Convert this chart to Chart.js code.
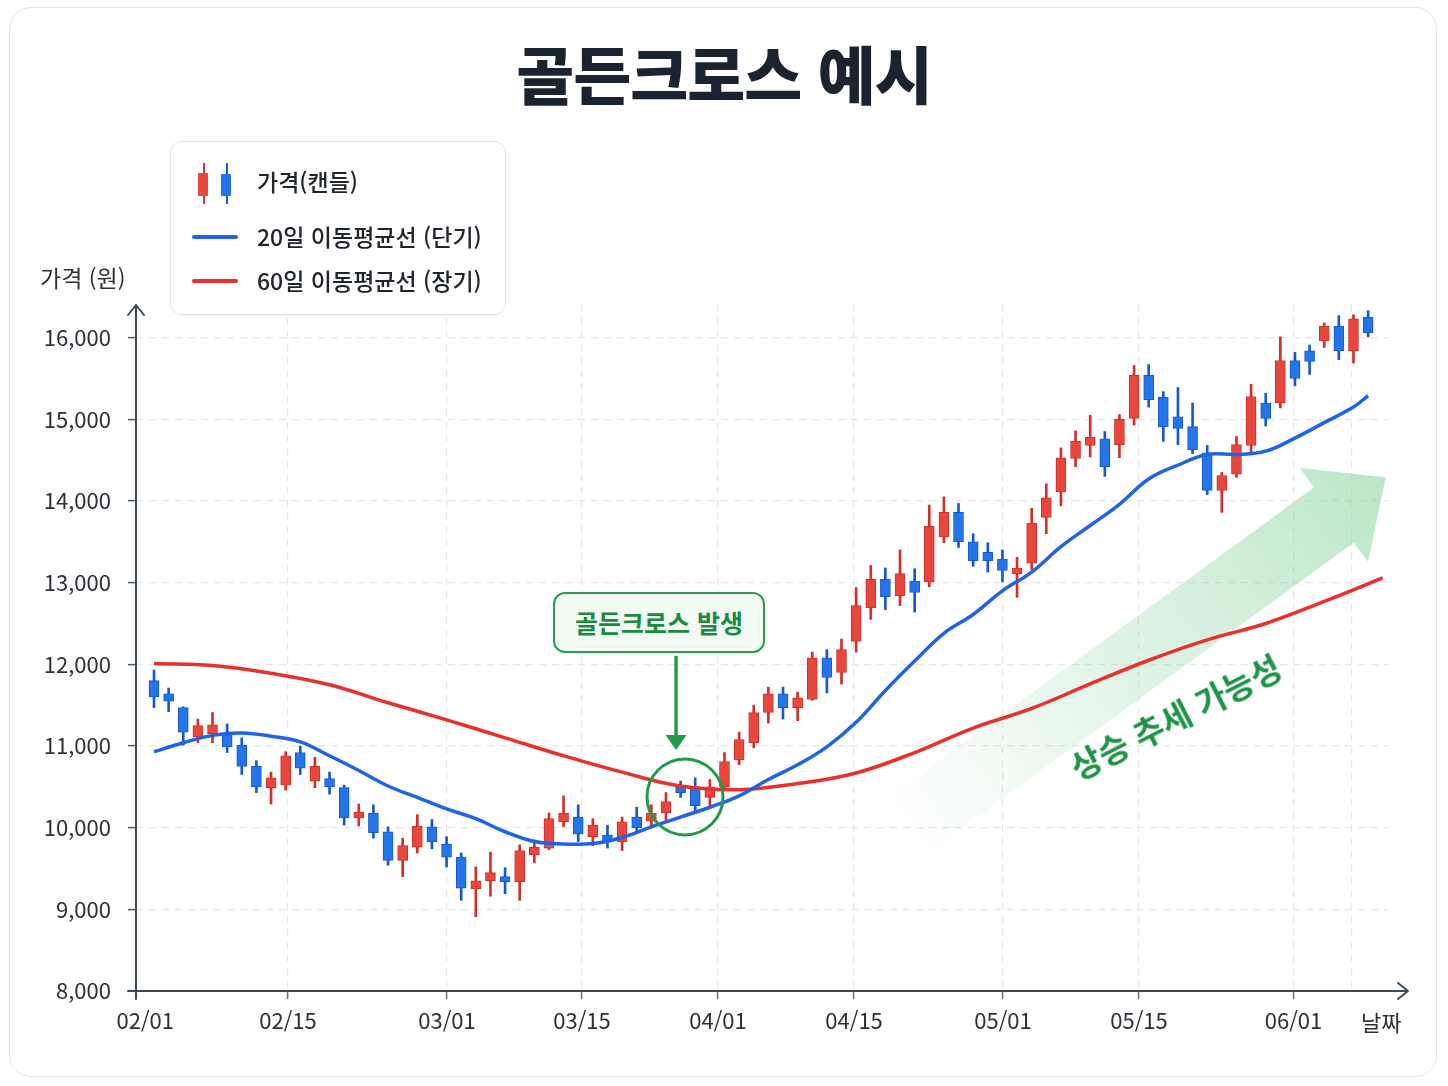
<!DOCTYPE html>
<html lang="ko">
<head>
<meta charset="utf-8">
<title>골든크로스 예시</title>
<script src="https://cdn.jsdelivr.net/npm/chart.js@4.4.3/dist/chart.umd.min.js"></script>
<style>
  html, body { margin: 0; padding: 0; background: #fff; }
  body {
    width: 1448px; height: 1086px; position: relative; overflow: hidden;
    font-family: "Noto Sans CJK KR", "Noto Sans", sans-serif; color: #1f2430;
  }
  .card {
    position: absolute; left: 9px; top: 7px; width: 1426px; height: 1068px;
    border: 1.5px solid #e3e5e9; border-radius: 22px; background: #fff;
  }
  #chart { position: absolute; left: 0; top: 0; }
  .title {
    position: absolute; left: 0; top: 40px; width: 1448px; text-align: center;
    font-size: 63px; line-height: 63px; font-weight: 900; color: #1b2331; letter-spacing: -1px;
  }
  .legend {
    position: absolute; left: 170px; top: 141px; width: 334px; height: 172px;
    border: 1.5px solid #dfe2e7; border-radius: 12px; background: #fff;
    box-shadow: 0 1px 3px rgba(0,0,0,0.04);
  }
  .legend .txt {
    position: absolute; left: 86px; font-size: 23px; line-height: 23px; font-weight: 500; color: #20242c;
    white-space: nowrap;
  }
  .legend .line { position: absolute; left: 21px; width: 46px; height: 4px; border-radius: 2px; }
  .candle { position: absolute; width: 2px; }
  .candle i { position: absolute; left: -5px; width: 10px; border-radius: 1px; }
  .axis-title { position: absolute; font-size: 23px; line-height: 23px; color: #2b2f36; white-space: nowrap; }
  .callout {
    position: absolute; left: 553px; top: 592px; width: 208px; height: 57px;
    border: 2px solid #2a9d50; border-radius: 12px; background: #f1faf3;
    font-size: 25px; line-height: 57px; font-weight: 600; color: #1d8a41; text-align: center;
  }
  .trend {
    position: absolute; left: 1175px; top: 716px; transform: translate(-50%, -50%) rotate(-27deg);
    font-size: 33px; font-weight: 600; color: #1f9447; white-space: nowrap;
  }
</style>
</head>
<body>
<div class="card"></div>
<canvas id="chart" width="1448" height="1086"></canvas>

<div class="title">골든크로스 예시</div>

<div class="legend">
  <div class="candle" style="left:32px; top:21px; height:41px; background:#d8322c;"><i style="top:10px; height:23px; background:#e8473e;"></i></div>
  <div class="candle" style="left:55px; top:21px; height:41px; background:#1b5fd6;"><i style="top:11px; height:22px; background:#2475ea;"></i></div>
  <div class="txt" style="top:28px;">가격(캔들)</div>
  <div class="line" style="top:93px; background:#1f63e6;"></div>
  <div class="txt" style="top:83px;">20일 이동평균선 (단기)</div>
  <div class="line" style="top:137px; background:#e8302c;"></div>
  <div class="txt" style="top:127px;">60일 이동평균선 (장기)</div>
</div>

<div class="axis-title" style="left:40px; top:266px;">가격 (원)</div>
<div class="axis-title" style="left:1361px; top:1010px; font-size:22px;">날짜</div>

<div class="callout">골든크로스 발생</div>
<div class="trend">상승 추세 가능성</div>

<script>
// 캔들 데이터 (거래일 순서, 0 = 02/01 부근)
const opens  = [11800, 11640, 11470, 11110, 11150, 11160, 11010, 10750, 10490, 10520,
                10920, 10570, 10600, 10490, 10120, 10180, 9950, 9600, 9760, 10010,
                9800, 9640, 9250, 9350, 9400, 9340, 9670, 9750, 10070, 10130,
                9890, 9910, 9830, 10130, 10080, 10180, 10520, 10500, 10370, 10500,
                10830, 11040, 11410, 11640, 11470, 11570, 12080, 11900, 12280, 12690,
                13040, 12840, 13020, 13010, 13560, 13860, 13500, 13370, 13290, 13110,
                13240, 13800, 14110, 14520, 14680, 14760, 14690, 15010, 15540, 15270,
                15030, 14910, 14590, 14130, 14330, 14680, 15200, 15200, 15720, 15840,
                15960, 16140, 15840, 16250];
const highs  = [11930, 11710, 11480, 11330, 11410, 11270, 11100, 10820, 10680, 10930,
                11000, 10860, 10680, 10520, 10290, 10280, 10010, 9870, 10160, 10100,
                9890, 9690, 9520, 9700, 9510, 9790, 9850, 10180, 10390, 10280,
                10110, 10030, 10130, 10250, 10280, 10430, 10570, 10610, 10590, 10920,
                11170, 11500, 11720, 11720, 11660, 12150, 12180, 12310, 12940, 13210,
                13180, 13400, 13170, 13950, 14050, 13970, 13600, 13490, 13400, 13310,
                13910, 14210, 14650, 14860, 15050, 14850, 15060, 15660, 15670, 15340,
                15390, 15200, 14680, 14350, 14790, 15430, 15320, 16010, 15820, 15910,
                16180, 16270, 16280, 16330];
const lows   = [11470, 11420, 11010, 11040, 11040, 10920, 10650, 10430, 10290, 10460,
                10650, 10490, 10410, 10030, 10020, 9870, 9540, 9400, 9690, 9740,
                9520, 9110, 8910, 9160, 9190, 9110, 9570, 9730, 10010, 9830,
                9780, 9750, 9720, 9940, 10000, 10080, 10370, 10180, 10240, 10480,
                10770, 10980, 11280, 11330, 11310, 11560, 11650, 11760, 12150, 12550,
                12670, 12720, 12640, 12950, 13490, 13430, 13200, 13130, 13010, 12820,
                13160, 13600, 13940, 14420, 14540, 14300, 14530, 14930, 15150, 14730,
                14690, 14580, 14080, 13860, 14290, 14580, 14920, 15140, 15410, 15550,
                15880, 15730, 15690, 16010];
const closes = [11600, 11550, 11170, 11250, 11260, 10990, 10750, 10500, 10610, 10880,
                10730, 10750, 10500, 10120, 10190, 9940, 9600, 9780, 10020, 9830,
                9640, 9260, 9350, 9450, 9340, 9720, 9760, 10110, 10180, 9920,
                10030, 9830, 10070, 10000, 10180, 10320, 10430, 10270, 10500, 10810,
                11080, 11410, 11640, 11470, 11590, 12080, 11840, 12180, 12720, 13040,
                12830, 13110, 12880, 13690, 13860, 13500, 13270, 13270, 13150, 13180,
                13730, 14040, 14530, 14730, 14780, 14420, 15000, 15540, 15240, 14910,
                14890, 14630, 14130, 14310, 14690, 15280, 15010, 15720, 15500, 15710,
                16140, 15840, 16230, 16060];

// 20일 이동평균선 (단기)
const ma20Days = [0, 2, 4, 6, 8, 10, 12, 14, 16, 18, 20, 22, 24, 26, 28, 30, 32, 34, 36, 38,
                  40, 42, 44, 46, 48, 50, 52, 54, 56, 58, 60, 62, 64, 66, 68, 70, 72, 74, 76, 78,
                  80, 82, 83];
const ma20 = [10930, 11040, 11130, 11160, 11120, 11050, 10880, 10700, 10510, 10370,
              10230, 10110, 9950, 9830, 9800, 9805, 9880, 10010, 10130, 10250,
              10390, 10590, 10770, 10990, 11290, 11680, 12040, 12380, 12610, 12900,
              13130, 13440, 13700, 13960, 14270, 14440, 14570, 14570, 14610, 14770,
              14960, 15150, 15290];

// 60일 이동평균선 (장기)
const ma60Days = [0, 4, 8, 12, 16, 20, 24, 28, 32, 36, 40, 44, 48, 52, 56, 60, 64, 68, 72, 76, 80, 84];
const ma60 = [12010, 11985, 11890, 11750, 11530, 11320, 11100, 10880, 10680, 10510,
              10465, 10540, 10670, 10920, 11220, 11460, 11760, 12050, 12300, 12500,
              12770, 13060];

// 축 눈금
const tickDays = [-0.6, 9.16, 20.03, 29.26, 38.56, 47.86, 58.04, 67.34, 77.9, 81.9];
const tickLabels = ["02/01", "02/15", "03/01", "03/15", "04/01", "04/15", "05/01", "05/15", "06/01", ""];
const priceTicks = [8000, 9000, 10000, 11000, 12000, 13000, 14000, 15000, 16000];

const UP = "#e8473e", UP_EDGE = "#d22f29";
const DOWN = "#2475ea", DOWN_EDGE = "#1658cf";
const isUp = (i) => closes[i] >= opens[i];

const wickData = opens.map((_, i) => ({ x: i, y: [lows[i], highs[i]] }));
const bodyData = opens.map((_, i) => ({ x: i, y: [opens[i], closes[i]] }));

const FONT = '"Noto Sans CJK KR", "Noto Sans", sans-serif';
const GREEN = "#23994b";

const decorations = {
  id: "decorations",
  beforeDatasetsDraw(chart) {
    // 상승 추세 화살표 (반투명 그라데이션)
    const { ctx, scales: { x, y } } = chart;
    const tail = { x: x.getPixelForValue(51), y: y.getPixelForValue(9960) };
    const tip = { x: x.getPixelForValue(84.2), y: y.getPixelForValue(14290) };
    const dx = tip.x - tail.x, dy = tip.y - tail.y, L = Math.hypot(dx, dy);
    const ux = dx / L, uy = dy / L, nx = -uy, ny = ux;
    const head = 64, hw = 58, sw = 34;
    const bx = tip.x - ux * head, by = tip.y - uy * head;
    const pts = [
      [tail.x + nx * sw, tail.y + ny * sw],
      [bx + nx * sw, by + ny * sw],
      [bx + nx * hw, by + ny * hw],
      [tip.x, tip.y],
      [bx - nx * hw, by - ny * hw],
      [bx - nx * sw, by - ny * sw],
      [tail.x - nx * sw, tail.y - ny * sw],
    ];
    const g = ctx.createLinearGradient(tail.x, tail.y, tip.x, tip.y);
    g.addColorStop(0, "rgba(140,214,160,0)");
    g.addColorStop(0.35, "rgba(140,214,160,0.2)");
    g.addColorStop(1, "rgba(140,214,160,0.58)");
    ctx.save();
    ctx.beginPath();
    pts.forEach(([px, py], k) => (k ? ctx.lineTo(px, py) : ctx.moveTo(px, py)));
    ctx.closePath();
    ctx.fillStyle = g;
    ctx.fill();
    ctx.restore();
  },
  afterDatasetsDraw(chart) {
    // 골든크로스 원 + 설명 화살표
    const { ctx, scales: { x, y } } = chart;
    const cx = x.getPixelForValue(36.3), cy = y.getPixelForValue(10377);
    ctx.save();
    ctx.strokeStyle = GREEN;
    ctx.lineWidth = 3;
    ctx.beginPath();
    ctx.arc(cx, cy, 38, 0, Math.PI * 2);
    ctx.stroke();

    const ax = x.getPixelForValue(35.69);
    const top = y.getPixelForValue(12104), bot = y.getPixelForValue(10950);
    ctx.lineWidth = 3.5;
    ctx.beginPath();
    ctx.moveTo(ax, top);
    ctx.lineTo(ax, bot - 12);
    ctx.stroke();
    ctx.fillStyle = GREEN;
    ctx.beginPath();
    ctx.moveTo(ax - 10.5, bot - 15);
    ctx.lineTo(ax + 10.5, bot - 15);
    ctx.lineTo(ax, bot);
    ctx.closePath();
    ctx.fill();
    ctx.restore();
  },
  afterDraw(chart) {
    // 축선 + 끝 화살표
    const { ctx, chartArea: a } = chart;
    ctx.save();
    ctx.strokeStyle = "#3e4856";
    ctx.lineWidth = 2;
    ctx.lineCap = "round";
    ctx.lineJoin = "round";
    ctx.beginPath();
    ctx.moveTo(a.left, a.bottom + 8);
    ctx.lineTo(a.left, a.top);
    ctx.moveTo(a.left - 8, a.top + 10);
    ctx.lineTo(a.left, a.top);
    ctx.lineTo(a.left + 8, a.top + 10);
    ctx.moveTo(a.left - 8, a.bottom);
    ctx.lineTo(a.right + 20, a.bottom);
    ctx.moveTo(a.right + 10, a.bottom - 8);
    ctx.lineTo(a.right + 20, a.bottom);
    ctx.lineTo(a.right + 10, a.bottom + 8);
    ctx.stroke();
    ctx.restore();
  },
};

new Chart(document.getElementById("chart"), {
  type: "bar",
  data: {
    datasets: [
      {
        type: "line",
        label: "20일 이동평균선 (단기)",
        data: ma20Days.map((d, i) => ({ x: d, y: ma20[i] })),
        borderColor: "#1f63e6",
        borderWidth: 3.5,
        pointRadius: 0,
        tension: 0.4,
        order: 0,
      },
      {
        type: "line",
        label: "60일 이동평균선 (장기)",
        data: ma60Days.map((d, i) => ({ x: d, y: ma60[i] })),
        borderColor: "#e8302c",
        borderWidth: 3.5,
        pointRadius: 0,
        tension: 0.4,
        order: 0,
      },
      {
        label: "가격(캔들)",
        data: bodyData,
        backgroundColor: (c) => (isUp(c.dataIndex) ? UP : DOWN),
        borderColor: (c) => (isUp(c.dataIndex) ? UP_EDGE : DOWN_EDGE),
        borderWidth: 1,
        borderSkipped: false,
        barThickness: 10,
        grouped: false,
        order: 1,
      },
      {
        label: "wick",
        data: wickData,
        backgroundColor: (c) => (isUp(c.dataIndex) ? UP_EDGE : DOWN_EDGE),
        borderWidth: 0,
        barThickness: 2,
        grouped: false,
        order: 2,
      },
    ],
  },
  options: {
    responsive: false,
    animation: false,
    layout: { padding: { top: 305, right: 60, left: 0, bottom: 0 } },
    plugins: { legend: { display: false }, tooltip: { enabled: false } },
    scales: {
      x: {
        type: "linear",
        offset: false,
        min: -1.2306,
        max: 84.36,
        afterFit: (s) => { s.height = 95; },
        afterBuildTicks: (s) => { s.ticks = tickDays.map((v) => ({ value: v })); },
        ticks: {
          autoSkip: false,
          maxRotation: 0,
          padding: 8,
          color: "#2b303a",
          font: { family: FONT, size: 22 },
          callback: (v, i) => tickLabels[i],
        },
        grid: {
          offset: false,
          color: (c) => (c.index === 0 ? "rgba(0,0,0,0)" : "#e4e6ea"),
          lineWidth: 1.2,
          tickLength: 8,
          tickWidth: 1.5,
          tickColor: (c) => (c.index === 0 || c.index === tickDays.length - 1 ? "rgba(0,0,0,0)" : "#6b7280"),
        },
        border: { display: false, dash: [7, 6] },
      },
      y: {
        min: 8000,
        max: 16400,
        afterFit: (s) => { s.width = 136; },
        afterBuildTicks: (s) => { s.ticks = priceTicks.map((v) => ({ value: v })); },
        ticks: {
          padding: 17,
          color: "#2b303a",
          font: { family: FONT, size: 22 },
          callback: (v) => v.toLocaleString("en-US"),
        },
        grid: {
          color: "#e4e6ea",
          lineWidth: 1.2,
          tickLength: 8,
          tickWidth: 1.5,
          tickColor: "#4b5563",
        },
        border: { display: false, dash: [7, 6] },
      },
    },
  },
  plugins: [decorations],
});
</script>
</body>
</html>
